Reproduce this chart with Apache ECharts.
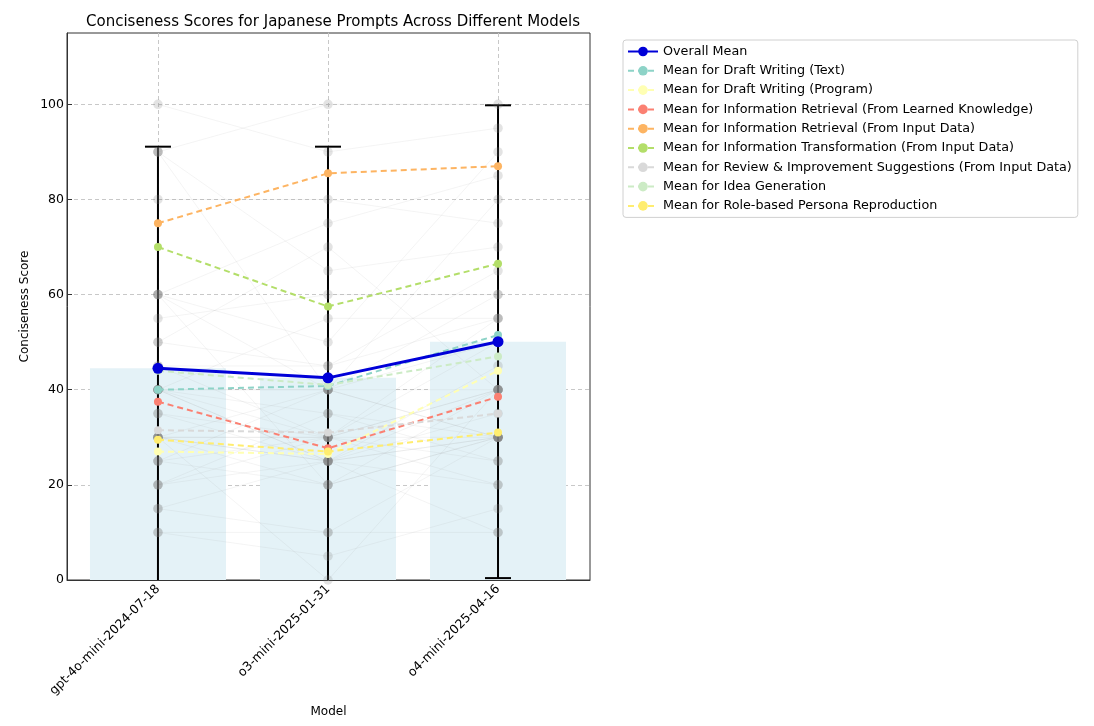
<!DOCTYPE html>
<html>
<head>
<meta charset="utf-8">
<script src="https://cdn.jsdelivr.net/npm/echarts@6/dist/echarts.min.js"></script>
<style>
html,body{margin:0;padding:0;background:#fff;}
#chart{width:1094px;height:726px;}
</style>
</head>
<body>
<div id="chart"></div>
<script>
// ---------------- DATA ----------------
const models = ['gpt-4o-mini-2024-07-18', 'o3-mini-2025-01-31', 'o4-mini-2025-04-16'];
const modelIndex = [0, 1, 2];
const overallMean = [44.5, 42.5, 50.1];
const overallStd = [46.6, 48.6, 49.7];
const yTicks = [0, 20, 40, 60, 80, 100];

const categoryNames = [
  'Mean for Draft Writing (Text)',
  'Mean for Draft Writing (Program)',
  'Mean for Information Retrieval (From Learned Knowledge)',
  'Mean for Information Retrieval (From Input Data)',
  'Mean for Information Transformation (From Input Data)',
  'Mean for Review & Improvement Suggestions (From Input Data)',
  'Mean for Idea Generation',
  'Mean for Role-based Persona Reproduction'
];
const meanDraftText = [40, 40.8, 51.5];
const meanDraftProgram = [27, 26.5, 44];
const meanIRLearned = [37.5, 27.7, 38.5];
const meanIRInput = [75, 85.5, 87];
const meanTransform = [70, 57.5, 66.5];
const meanReview = [31.5, 31, 35];
const meanIdea = [44, 41, 47];
const meanRole = [29.5, 27, 31];

// individual prompt scores: [gpt-4o-mini, o3-mini, o4-mini]
const promptScores = [
  [90, 100, 100], [60, 75, 85], [80, 80, 75], [100, 90, 95], [90, 65, 70],
  [60, 50, 90], [55, 60, 60], [40, 55, 55], [50, 70, 40], [45, 45, 65],
  [40, 40, 50], [40, 35, 30], [35, 30, 40], [30, 25, 30], [30, 40, 40],
  [30, 30, 25], [25, 20, 30], [20, 25, 20], [15, 10, 10], [10, 5, 15],
  [30, 0, 40], [60, 40, 30], [40, 25, 35], [20, 30, 55], [30, 25, 40],
  [25, 40, 30], [90, 40, 60], [40, 30, 20], [60, 20, 30], [35, 25, 45],
  [30, 30, 40], [10, 10, 30], [20, 35, 25], [40, 40, 80], [25, 30, 30],
  [15, 25, 10], [30, 20, 40], [45, 30, 50], [40, 25, 30], [50, 45, 55]
];

// ---------------- CHART ----------------
const categoryMeans = [meanDraftText, meanDraftProgram, meanIRLearned, meanIRInput,
  meanTransform, meanReview, meanIdea, meanRole];
const categoryColors = ['#8dd3c7', '#ffffb3', '#fb8072', '#fdb462', '#b3de69', '#d9d9d9', '#ccebc5', '#ffed6f'];
const FONT = 'DejaVu Sans';

const series = [];

// bars (overall mean)
series.push({
  type: 'custom', name: 'bars', silent: true, z: 1,
  data: modelIndex.map(i => [i, overallMean[i]]),
  renderItem: function (params, api) {
    const x = api.value(0), v = api.value(1);
    const top = api.coord([x, v]);
    const base = api.coord([x, 0]);
    const w = api.size([0.8, 0])[0];
    return { type: 'rect', shape: { x: top[0] - w / 2, y: top[1], width: w, height: base[1] - top[1] },
      style: { fill: '#e4f2f7' } };
  }
});

// individual prompt lines
promptScores.forEach((p, k) => {
  series.push({
    type: 'line', name: 'prompt' + k, silent: true, z: 2,
    data: p.map((v, i) => [i, v]), symbol: 'none',
    lineStyle: { color: '#9a9a9a', width: 0.8, opacity: 0.14 }
  });
});

// individual points
const pts = [];
promptScores.forEach(p => p.forEach((v, i) => pts.push([i, v])));
series.push({
  type: 'scatter', name: 'points', silent: true, z: 4,
  data: pts, symbolSize: 9.5,
  itemStyle: { color: '#808080', opacity: 0.22 }
});

// error bars
series.push({
  type: 'custom', name: 'errbars', silent: true, z: 3, clip: true,
  data: modelIndex.map(i => [i, overallMean[i] - overallStd[i], overallMean[i] + overallStd[i]]),
  renderItem: function (params, api) {
    const x = api.value(0);
    const lo = api.coord([x, api.value(1)]);
    const hi = api.coord([x, api.value(2)]);
    const cap = 13;
    const st = { stroke: '#000', lineWidth: 2 };
    return { type: 'group', children: [
      { type: 'line', shape: { x1: lo[0], y1: lo[1], x2: hi[0], y2: hi[1] }, style: st },
      { type: 'line', shape: { x1: hi[0] - cap, y1: hi[1], x2: hi[0] + cap, y2: hi[1] }, style: st },
      { type: 'line', shape: { x1: lo[0] - cap, y1: lo[1], x2: lo[0] + cap, y2: lo[1] }, style: st }
    ] };
  }
});

// category means
categoryMeans.forEach((arr, c) => {
  series.push({
    type: 'line', name: categoryNames[c], z: 5,
    data: arr.map((v, i) => [i, v]),
    symbol: 'circle', symbolSize: 8,
    itemStyle: { color: categoryColors[c] },
    lineStyle: { color: categoryColors[c], width: 2, type: [6, 4] }
  });
});

// overall mean
series.push({
  type: 'line', name: 'Overall Mean', z: 6,
  data: modelIndex.map(i => [i, overallMean[i]]),
  symbol: 'circle', symbolSize: 11,
  itemStyle: { color: '#0000d8' },
  lineStyle: { color: '#0000d8', width: 3 }
});

const chart = echarts.init(document.getElementById('chart'), null, { renderer: 'canvas' });
chart.setOption({
  animation: false,
  backgroundColor: '#fff',
  textStyle: { fontFamily: FONT },
  title: {
    text: 'Conciseness Scores for Japanese Prompts Across Different Models',
    left: 328, top: 10, textAlign: 'center',
    textStyle: { fontFamily: FONT, fontSize: 15, fontWeight: 'normal', color: '#000' }
  },
  legend: {
    orient: 'vertical', left: 623, top: 40,
    data: ['Overall Mean'].concat(categoryNames),
    itemWidth: 30, itemHeight: 12, itemGap: 6.3,
    padding: [5, 6, 5, 4],
    borderColor: '#d0d0d0', borderWidth: 1, borderRadius: 3,
    textStyle: { fontFamily: FONT, fontSize: 12.75, color: '#000' }
  },
  grid: { left: 67, top: 33, right: 504, bottom: 146, show: true, borderColor: '#333', borderWidth: 1 },
  xAxis: {
    type: 'value', min: -0.535, max: 2.541,
    name: 'Model', nameLocation: 'middle', nameGap: 126,
    nameTextStyle: { fontFamily: FONT, fontSize: 12, color: '#000' },
    axisLine: { show: true, onZero: false, lineStyle: { color: '#333' } },
    axisTick: { show: true, customValues: modelIndex, inside: true, lineStyle: { color: '#333' } },
    axisLabel: { customValues: modelIndex, rotate: 45, fontSize: 12.5, color: '#000', fontFamily: FONT,
      margin: 7, formatter: v => models[Math.round(v)] },
    splitLine: { show: true, lineStyle: { color: '#c8c8c8', type: [4, 3] } }
  },
  yAxis: {
    type: 'value', min: 0, max: 115, interval: 20,
    name: 'Conciseness Score', nameLocation: 'middle', nameGap: 36, nameRotate: 90,
    nameTextStyle: { fontFamily: FONT, fontSize: 12, color: '#000' },
    axisLine: { show: true, onZero: false, lineStyle: { color: '#333' } },
    axisTick: { show: true, inside: true, lineStyle: { color: '#333' } },
    axisLabel: { fontSize: 12.5, color: '#000', fontFamily: FONT, showMaxLabel: false, margin: 3,
      formatter: v => (yTicks.indexOf(v) >= 0 ? String(v) : '') },
    splitLine: { show: true, showMaxLine: false, lineStyle: { color: '#c8c8c8', type: [4, 3] } }
  },
  series: series
});
</script>
</body>
</html>
